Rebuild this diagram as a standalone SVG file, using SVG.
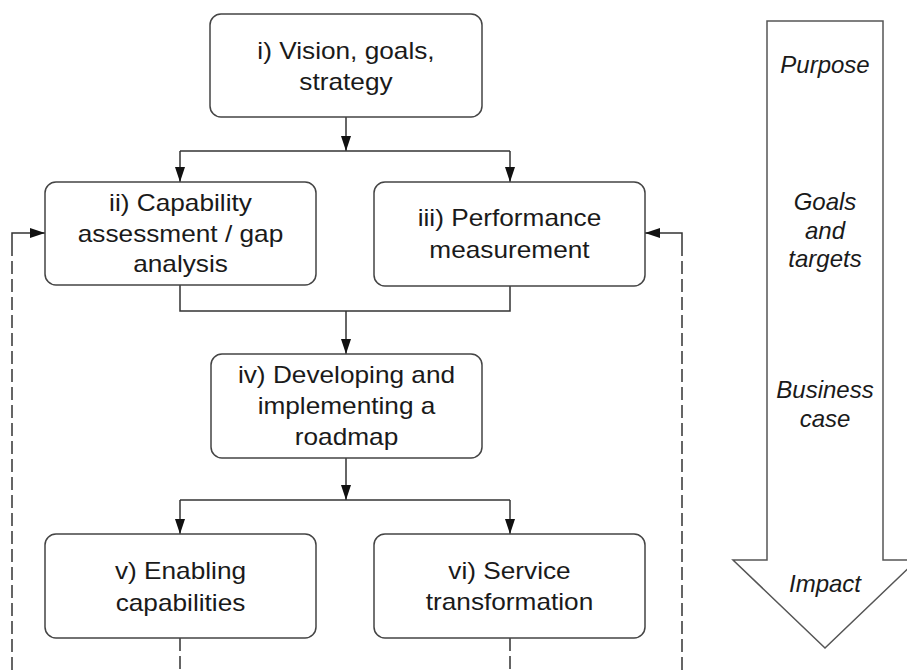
<svg xmlns="http://www.w3.org/2000/svg" width="907" height="670" viewBox="0 0 907 670">
<defs>
<style>
.box{fill:#fff;stroke:#444;stroke-width:1.5}
.lbl{font-family:"Liberation Sans",Arial,sans-serif;font-size:23px;fill:#1a1a1a;text-anchor:middle}
.it{font-family:"Liberation Sans",Arial,sans-serif;font-size:24px;font-style:italic;fill:#1a1a1a;text-anchor:middle}
.ln{fill:none;stroke:#333;stroke-width:1.5}
.ds{fill:none;stroke:#333;stroke-width:1.5;stroke-dasharray:13 5}
.big{fill:#fff;stroke:#555;stroke-width:1.5}
</style>
<marker id="ah" markerUnits="userSpaceOnUse" markerWidth="16" markerHeight="10" refX="15" refY="5" orient="auto">
<path d="M0,0 L15,5 L0,10 z" fill="#111"/>
</marker>
</defs>
<rect width="907" height="670" fill="#fff"/>
<g id="connectors">
<path class="ln" d="M346,117 V151" marker-end="url(#ah)"/>
<path class="ln" d="M180,151 H510"/>
<path class="ln" d="M180,151 V182" marker-end="url(#ah)"/>
<path class="ln" d="M510,151 V182" marker-end="url(#ah)"/>
<path class="ln" d="M180,285 V311 H510 V286"/>
<path class="ln" d="M346,311 V354" marker-end="url(#ah)"/>
<path class="ln" d="M346,458 V500" marker-end="url(#ah)"/>
<path class="ln" d="M180,500 H510"/>
<path class="ln" d="M180,500 V534" marker-end="url(#ah)"/>
<path class="ln" d="M510,500 V534" marker-end="url(#ah)"/>
<path class="ds" d="M180,638 V670"/>
<path class="ds" d="M510,638 V670"/>
<path class="ds" d="M12,670 V246"/>
<path class="ln" d="M12,246 V233 H45" marker-end="url(#ah)"/>
<path class="ds" d="M682,670 V246"/>
<path class="ln" d="M682,246 V233 H645" marker-end="url(#ah)"/>
</g>
<g id="node-i">
<rect class="box" x="210" y="14" width="272" height="103" rx="11"/>
<text class="lbl" transform="translate(346 0) scale(1.14 1)" x="0" y="59.5">i) Vision, goals,</text>
<text class="lbl" transform="translate(346 0) scale(1.14 1)" x="0" y="90.5">strategy</text>
</g>
<g id="node-ii">
<rect class="box" x="45" y="182" width="271" height="103" rx="11"/>
<text class="lbl" transform="translate(180.5 0) scale(1.14 1)" x="0" y="211.5">ii) Capability</text>
<text class="lbl" transform="translate(180.5 0) scale(1.14 1)" x="0" y="242">assessment / gap</text>
<text class="lbl" transform="translate(180.5 0) scale(1.14 1)" x="0" y="272.5">analysis</text>
</g>
<g id="node-iii">
<rect class="box" x="374" y="182" width="271" height="104" rx="11"/>
<text class="lbl" transform="translate(509.5 0) scale(1.14 1)" x="0" y="226.5">iii) Performance</text>
<text class="lbl" transform="translate(509.5 0) scale(1.14 1)" x="0" y="258">measurement</text>
</g>
<g id="node-iv">
<rect class="box" x="211" y="354" width="271" height="104" rx="11"/>
<text class="lbl" transform="translate(346.5 0) scale(1.14 1)" x="0" y="383">iv) Developing and</text>
<text class="lbl" transform="translate(346.5 0) scale(1.14 1)" x="0" y="414">implementing a</text>
<text class="lbl" transform="translate(346.5 0) scale(1.14 1)" x="0" y="445">roadmap</text>
</g>
<g id="node-v">
<rect class="box" x="45" y="534" width="271" height="104" rx="11"/>
<text class="lbl" transform="translate(180.5 0) scale(1.14 1)" x="0" y="579.5">v) Enabling</text>
<text class="lbl" transform="translate(180.5 0) scale(1.14 1)" x="0" y="611">capabilities</text>
</g>
<g id="node-vi">
<rect class="box" x="374" y="534" width="271" height="104" rx="11"/>
<text class="lbl" transform="translate(509.5 0) scale(1.14 1)" x="0" y="579">vi) Service</text>
<text class="lbl" transform="translate(509.5 0) scale(1.14 1)" x="0" y="610.5">transformation</text>
</g>
<g id="impact-arrow">
<polygon class="big" points="767,21 883,21 883,560 917,560 825,648 733,560 767,560"/>
<text class="it" x="825" y="73">Purpose</text>
<text class="it" x="825" y="210">Goals</text>
<text class="it" x="825" y="238.5">and</text>
<text class="it" x="825" y="267">targets</text>
<text class="it" x="825" y="398">Business</text>
<text class="it" x="825" y="427">case</text>
<text class="it" x="825" y="592">Impact</text>
</g>
</svg>
